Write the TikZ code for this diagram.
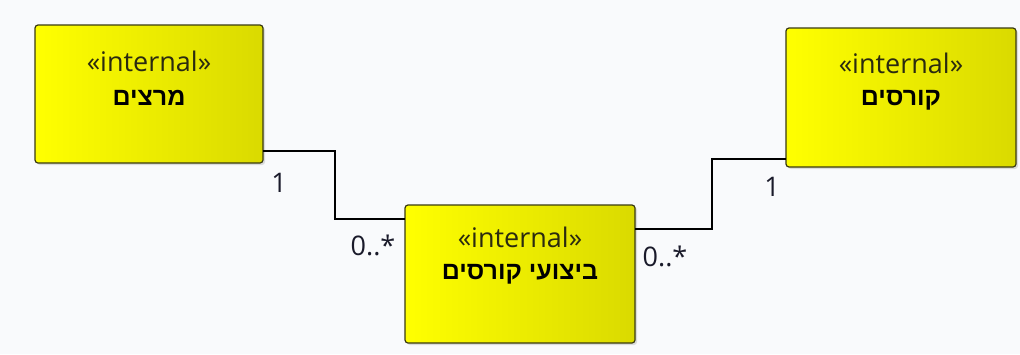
\documentclass[tikz,border=0pt]{standalone}
\usepackage{fontspec}
\setmainfont{Open Sans}
\newfontfamily\hebfont[Script=Hebrew]{Liberation Sans}
\TeXXeTstate=1
\usetikzlibrary{shadows}
\definecolor{bg}{HTML}{F9FAFC}
\definecolor{yl}{HTML}{FFFF00}
\definecolor{yd}{HTML}{DADA00}
\definecolor{bd}{HTML}{3A3A10}
\definecolor{lbl}{HTML}{1A1A2A}
\definecolor{st}{HTML}{2A2A10}
\tikzset{
  cls/.style={draw=bd, line width=1.2pt, rounded corners=3pt, left color=yl, right color=yd,
    drop shadow={opacity=0.25, shadow xshift=2pt, shadow yshift=-2pt}},
  stereo/.style={font=\fontsize{27}{30}\selectfont, text=st},
  cname/.style={font=\hebfont\bfseries\fontsize{25}{28}\selectfont, text=black},
  conn/.style={draw=black, line width=1.1pt},
  mult/.style={font=\fontsize{27}{30}\selectfont, text=lbl}
}
\begin{document}
\begin{tikzpicture}[x=1pt,y=-1pt]
\fill[bg] (0,0) rectangle (1020,354);
\useasboundingbox (0,0) rectangle (1020,354);
% boxes
\path[cls] (35,25) rectangle (263,163);
\path[cls] (786,28) rectangle (1016,167);
\path[cls] (405,205) rectangle (635,343);
\node[stereo] (a1) at (149,61) {«internal»};
\node[cname] (a2) at (149,98) {\beginR מרצים\endR};
\node[stereo] (b1) at (901,63) {«internal»};
\node[cname] (b2) at (901,100) {\beginR קורסים\endR};
\node[stereo] (c1) at (520,237) {«internal»};
\node[cname] (c2) at (520,274) {\beginR ביצועי קורסים\endR};
% connector anchors
\coordinate (a-out) at (263,151);
\coordinate (c-in) at (405,219);
\coordinate (c-out) at (635,229);
\coordinate (b-in) at (786,159);
\draw[conn] (a-out) -| (335,219) -- (c-in);
\draw[conn] (c-out) -| (712,159) -- (b-in);
\node[mult] (m1) at (279,183) {1};
\node[mult] (m2) at (373,245) {0..*};
\node[mult] (m3) at (665,256) {0..*};
\node[mult] (m4) at (772,187) {1};
\end{tikzpicture}
\end{document}
